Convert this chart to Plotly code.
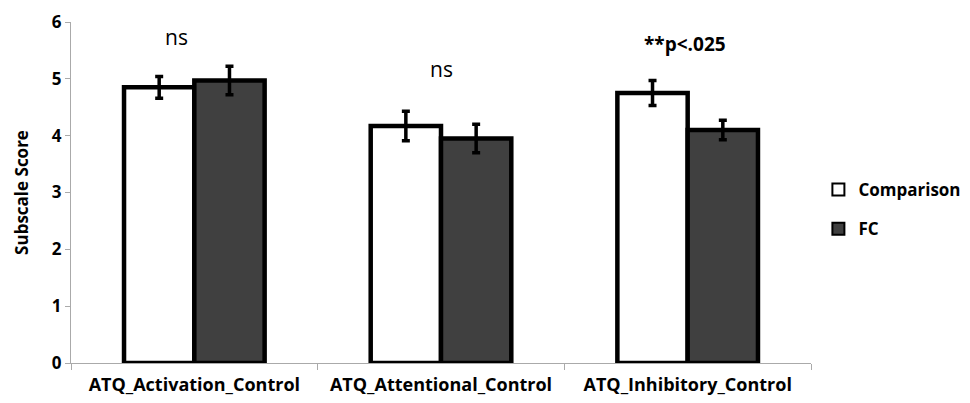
import plotly.graph_objects as go

categories = ["ATQ_Activation_Control", "ATQ_Attentional_Control", "ATQ_Inhibitory_Control"]
comparison = [4.85, 4.17, 4.75]
comparison_err = [0.19, 0.26, 0.22]
fc = [4.97, 3.95, 4.10]
fc_err = [0.25, 0.25, 0.17]
annot_text = ["ns", "ns", "**p<.025"]
annot_y = [5.74, 5.17, 5.62]
y_ticks = [0, 1, 2, 3, 4, 5, 6]

font_family = "Open Sans, Liberation Sans, sans-serif"

fig = go.Figure()
fig.add_trace(go.Bar(
    name="Comparison", x=categories, y=comparison, legendgroup="a",
    marker=dict(color="white", line=dict(color="black", width=4.5)),
    error_y=dict(type="data", array=comparison_err, color="black", thickness=3.5, width=4),
))
fig.add_trace(go.Bar(
    name="FC", x=categories, y=fc, legendgroup="b",
    marker=dict(color="#404040", line=dict(color="black", width=4.5)),
    error_y=dict(type="data", array=fc_err, color="black", thickness=3.5, width=4),
))

shifts = [-18, 0, -3]
for i, (txt, yy) in enumerate(zip(annot_text, annot_y)):
    bold = txt.startswith("*")
    fig.add_annotation(
        x=categories[i], y=yy, text=("<b>%s</b>" % txt) if bold else txt,
        showarrow=False, xshift=shifts[i],
        font=dict(family=font_family, size=19 if bold else 21, color="black"),
    )

fig.update_layout(
    width=970, height=403,
    margin=dict(l=63, r=152, t=14, b=48),
    paper_bgcolor="white", plot_bgcolor="white",
    barmode="group", bargap=0.43, bargroupgap=0,
    font=dict(family=font_family, color="black"),
    legend=dict(x=1.01, y=0.45, xanchor="left", yanchor="middle",
                font=dict(size=17, family=font_family, color="black", weight="bold"),
                itemsizing="constant", tracegroupgap=14),
    showlegend=True,
)
fig.update_yaxes(
    range=[0, 6], tickvals=y_ticks, showgrid=False, zeroline=False, automargin=False,
    showline=True, linecolor="#aaaaaa", linewidth=1, ticklabeloverflow="allow",
    ticks="outside", tickcolor="#aaaaaa", ticklen=5,
    tickfont=dict(size=17, family=font_family, weight="bold", color="black"),
    title=dict(text="<b>Subscale Score</b>", font=dict(size=17, family=font_family, color="black"), standoff=18),
)
fig.update_xaxes(
    showgrid=False, showline=True, linecolor="#aaaaaa", linewidth=1, automargin=False,
    ticks="outside", tickcolor="#aaaaaa", ticklen=6, tickson="boundaries",
    ticklabelstandoff=5, ticklabeloverflow="allow",
    tickfont=dict(size=18, family=font_family, weight="bold", color="black"),
)

fig.write_html("out.html")
